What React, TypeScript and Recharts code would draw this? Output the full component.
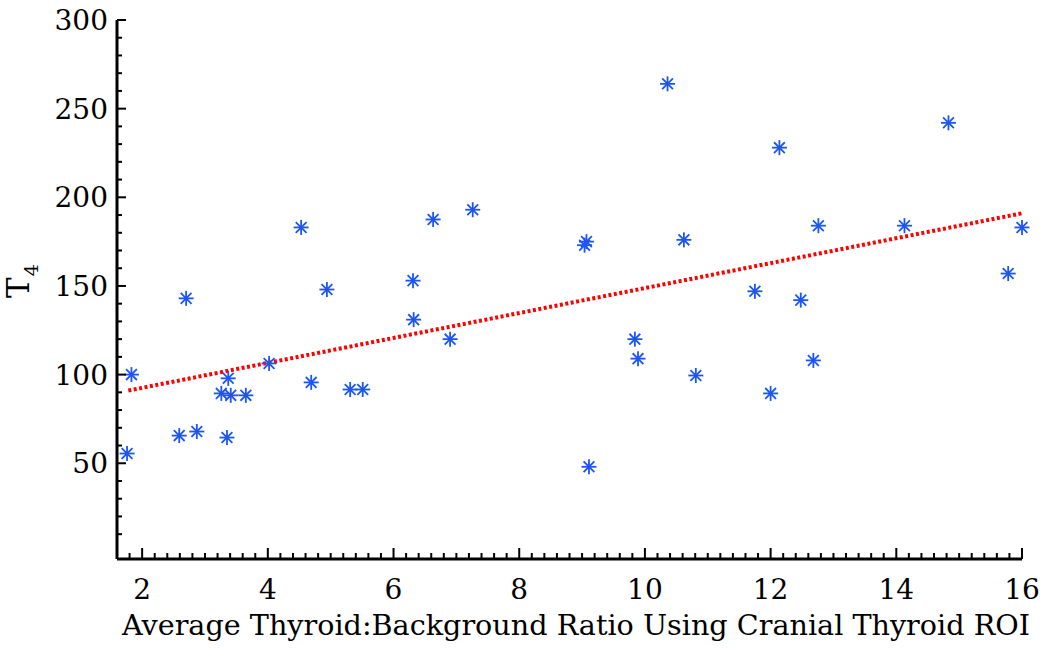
import { ScatterChart, Scatter, XAxis, YAxis, ReferenceLine, Label } from 'recharts'

const FONT = '"DejaVu Serif", "Liberation Serif", serif'
const BLUE = '#1c55f5'

// Average thyroid:background ratio (x) and T4 (y) per animal
const ratio = [
  1.76, 1.83, 2.59, 2.70, 2.87, 3.26, 3.35, 3.37, 3.41, 3.65,
  4.02, 4.53, 4.69, 4.94, 5.31, 5.51, 6.31, 6.32, 6.63, 6.90,
  7.26, 9.04, 9.07, 9.11, 9.84, 9.89, 10.36, 10.62, 10.81, 11.75,
  12.0, 12.14, 12.48, 12.68, 12.76, 14.13, 14.83, 15.78, 16.0,
]
const t4 = [
  55.5, 100, 65.6, 143, 67.9, 89.4, 64.5, 97.9, 88.3, 88.3,
  106.3, 183, 95.6, 148, 91.6, 91.6, 153, 131, 187.5, 120,
  193, 173, 175, 48, 120, 109, 264, 176, 99.5, 147,
  89.4, 228, 142, 108, 184, 184, 242, 157, 183,
]

// fitted regression line end points
const trendRatio = [1.78, 16]
const trendT4 = [91, 191]

const xTicks = Array.from({ length: 73 }, (_, i) => Math.round((1.6 + i * 0.2) * 10) / 10)
const yTicks = Array.from({ length: 30 }, (_, i) => (i + 1) * 10)

const points = ratio.map((r, i) => ({ ratio: r, t4: t4[i] }))

const Star = ({ cx, cy }: any) => {
  const r = 7.5
  const d = r * 0.72
  return (
    <g stroke={BLUE} strokeWidth={1.8}>
      <line x1={cx - r} y1={cy} x2={cx + r} y2={cy} />
      <line x1={cx} y1={cy - r} x2={cx} y2={cy + r} />
      <line x1={cx - d} y1={cy - d} x2={cx + d} y2={cy + d} />
      <line x1={cx - d} y1={cy + d} x2={cx + d} y2={cy - d} />
      <circle cx={cx} cy={cy} r={2} fill={BLUE} stroke="none" />
    </g>
  )
}

const XTick = ({ x, y, payload }: any) => {
  const v = payload.value
  const major = Number.isInteger(v) && v % 2 === 0
  return (
    <g>
      <line x1={x} y1={y} x2={x} y2={y - (major ? 11 : 6)} stroke="#000" strokeWidth={2} />
      {major && (
        <text x={x} y={y + 40} textAnchor="middle" fontFamily={FONT} fontSize={28} fill="#000">
          {v}
        </text>
      )}
    </g>
  )
}

const YTick = ({ x, y, payload }: any) => {
  const v = payload.value
  const major = v % 50 === 0
  return (
    <g>
      <line x1={x} y1={y} x2={x + (major ? 9 : 5)} y2={y} stroke="#000" strokeWidth={2} />
      {major && (
        <text x={x - 9} y={y + 10} textAnchor="end" fontFamily={FONT} fontSize={28} fill="#000">
          {v}
        </text>
      )}
    </g>
  )
}

export default function App() {
  return (
    <div style={{ position: 'absolute', left: 0, top: 0, background: '#fff' }}>
      <ScatterChart width={1045} height={648} margin={{ top: 20, right: 23, bottom: 0, left: 0 }}>
        <XAxis
          type="number"
          dataKey="ratio"
          domain={[1.6, 16]}
          ticks={xTicks}
          interval={0}
          tickSize={0}
          tickMargin={0}
          tickLine={false}
          tick={<XTick />}
          height={89}
          axisLine={{ stroke: '#000', strokeWidth: 3 }}
        >
          <Label
            content={(props: any) => {
              const vb = props.viewBox
              return (
                <text
                  x={122}
                  y={vb.y + 76}
                  fontFamily={FONT}
                  fontSize={27}
                  fill="#000"
                  textLength={908}
                  lengthAdjust="spacingAndGlyphs"
                >
                  Average Thyroid:Background Ratio Using Cranial Thyroid ROI
                </text>
              )
            }}
          />
        </XAxis>
        <YAxis
          type="number"
          dataKey="t4"
          domain={[-4, 300]}
          ticks={yTicks}
          interval={0}
          tickSize={0}
          tickMargin={0}
          tickLine={false}
          tick={<YTick />}
          width={117}
          axisLine={{ stroke: '#000', strokeWidth: 3 }}
        >
          <Label
            content={() => (
              <text transform="translate(29, 298) rotate(-90)" fontFamily={FONT} fontSize={31} fill="#000">
                T
                <tspan dy={9} dx={1} fontSize={19}>4</tspan>
              </text>
            )}
          />
        </YAxis>
        <ReferenceLine
          segment={[
            { x: trendRatio[0], y: trendT4[0] },
            { x: trendRatio[1], y: trendT4[1] },
          ]}
          stroke="#ff0000"
          strokeWidth={4}
          strokeDasharray="3 2.5"
          ifOverflow="visible"
        />
        <Scatter data={points} shape={<Star />} isAnimationActive={false} />
      </ScatterChart>
    </div>
  )
}
